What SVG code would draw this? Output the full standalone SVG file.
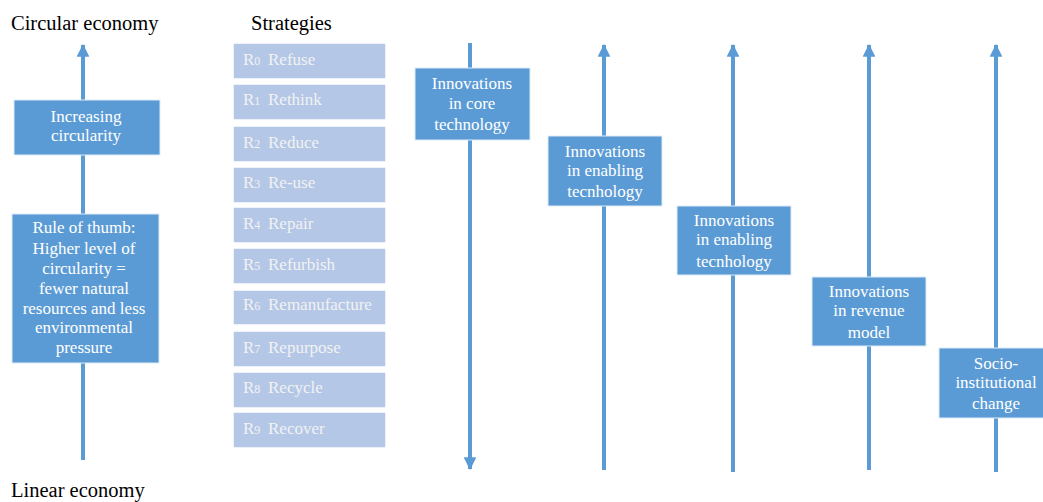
<svg xmlns="http://www.w3.org/2000/svg" width="1043" height="502" viewBox="0 0 1043 502" font-family="'Liberation Serif', 'Times New Roman', serif">
<style>
text{font-family:"Liberation Serif","Times New Roman",serif}
.t{fill:#000;font-size:20.5px}
.bx{fill:#5B9BD5;stroke:#DEEBF7;stroke-width:1}
.bt{fill:#FFFFFF;font-size:17px;text-anchor:middle}
.sb{fill:#B4C7E7;stroke:#FFFFFF;stroke-width:1.5}
.st{fill:#F2F2F2;font-size:17px}
.sub{font-size:12px}
.ln{stroke:#5B9BD5;stroke-width:4;fill:none}
</style>
<defs>
<marker id="ah" viewBox="0 0 12 12" refX="11" refY="6" markerWidth="3.2" markerHeight="3.2" markerUnits="strokeWidth" orient="auto">
<path d="M0,0 L12,6 L0,12 Z" fill="#5B9BD5"/>
</marker>
</defs>
<text class="t" x="11" y="30">Circular economy</text>
<text class="t" x="251" y="30">Strategies</text>
<text class="t" x="11" y="497">Linear economy</text>
<g id="connectors">
<line class="ln" x1="83" y1="460" x2="83" y2="45" marker-end="url(#ah)"/>
<line class="ln" x1="470" y1="43" x2="470" y2="469" marker-end="url(#ah)"/>
<line class="ln" x1="604" y1="470" x2="604" y2="45" marker-end="url(#ah)"/>
<line class="ln" x1="733" y1="472" x2="733" y2="45" marker-end="url(#ah)"/>
<line class="ln" x1="869" y1="470" x2="869" y2="45" marker-end="url(#ah)"/>
<line class="ln" x1="996" y1="472" x2="996" y2="45" marker-end="url(#ah)"/>
</g>
<g id="n-increasing">
<rect class="bx" x="14" y="100" width="146" height="55"/>
<text class="bt" x="86" y="122">Increasing</text>
<text class="bt" x="86" y="141">circularity</text>
</g>
<g id="n-rule">
<rect class="bx" x="12" y="214" width="147" height="149"/>
<text class="bt" x="84" y="233">Rule of thumb:</text>
<text class="bt" x="84" y="254">Higher level of</text>
<text class="bt" x="84" y="274">circularity =</text>
<text class="bt" x="84" y="294">fewer natural</text>
<text class="bt" x="84" y="314">resources and less</text>
<text class="bt" x="84" y="333">environmental</text>
<text class="bt" x="84" y="353">pressure</text>
</g>
<g id="n-r0"><rect class="sb" x="233" y="43" width="153" height="36"/><text class="st" x="243" y="65">R<tspan class="sub">0</tspan><tspan x="268">Refuse</tspan></text></g>
<g id="n-r1"><rect class="sb" x="233" y="84" width="153" height="36"/><text class="st" x="243" y="105">R<tspan class="sub">1</tspan><tspan x="268">Rethink</tspan></text></g>
<g id="n-r2"><rect class="sb" x="233" y="126" width="153" height="36"/><text class="st" x="243" y="148">R<tspan class="sub">2</tspan><tspan x="268">Reduce</tspan></text></g>
<g id="n-r3"><rect class="sb" x="233" y="167" width="153" height="36"/><text class="st" x="243" y="188">R<tspan class="sub">3</tspan><tspan x="268">Re-use</tspan></text></g>
<g id="n-r4"><rect class="sb" x="233" y="207" width="153" height="36"/><text class="st" x="243" y="229">R<tspan class="sub">4</tspan><tspan x="268">Repair</tspan></text></g>
<g id="n-r5"><rect class="sb" x="233" y="248" width="153" height="36"/><text class="st" x="243" y="270">R<tspan class="sub">5</tspan><tspan x="268">Refurbish</tspan></text></g>
<g id="n-r6"><rect class="sb" x="233" y="290" width="153" height="35"/><text class="st" x="243" y="310">R<tspan class="sub">6</tspan><tspan x="268">Remanufacture</tspan></text></g>
<g id="n-r7"><rect class="sb" x="233" y="331" width="153" height="36"/><text class="st" x="243" y="353">R<tspan class="sub">7</tspan><tspan x="268">Repurpose</tspan></text></g>
<g id="n-r8"><rect class="sb" x="233" y="372" width="153" height="36"/><text class="st" x="243" y="393">R<tspan class="sub">8</tspan><tspan x="268">Recycle</tspan></text></g>
<g id="n-r9"><rect class="sb" x="233" y="412" width="153" height="36"/><text class="st" x="243" y="434">R<tspan class="sub">9</tspan><tspan x="268">Recover</tspan></text></g>
<g id="n-core">
<rect class="bx" x="415" y="68" width="115" height="72"/>
<text class="bt" x="472" y="89">Innovations</text>
<text class="bt" x="472" y="109">in core</text>
<text class="bt" x="472" y="130">technology</text>
</g>
<g id="n-enabling1">
<rect class="bx" x="548" y="136" width="114" height="70"/>
<text class="bt" x="605" y="157">Innovations</text>
<text class="bt" x="605" y="176">in enabling</text>
<text class="bt" x="605" y="197">tecnhology</text>
</g>
<g id="n-enabling2">
<rect class="bx" x="677" y="206" width="114" height="69"/>
<text class="bt" x="734" y="226">Innovations</text>
<text class="bt" x="734" y="245">in enabling</text>
<text class="bt" x="734" y="267">tecnhology</text>
</g>
<g id="n-revenue">
<rect class="bx" x="812" y="277" width="114" height="69"/>
<text class="bt" x="869" y="297">Innovations</text>
<text class="bt" x="869" y="316">in revenue</text>
<text class="bt" x="869" y="338">model</text>
</g>
<g id="n-socio">
<rect class="bx" x="939" y="348" width="106" height="70"/>
<text class="bt" x="996" y="369">Socio-</text>
<text class="bt" x="996" y="388">institutional</text>
<text class="bt" x="996" y="409">change</text>
</g>
</svg>
